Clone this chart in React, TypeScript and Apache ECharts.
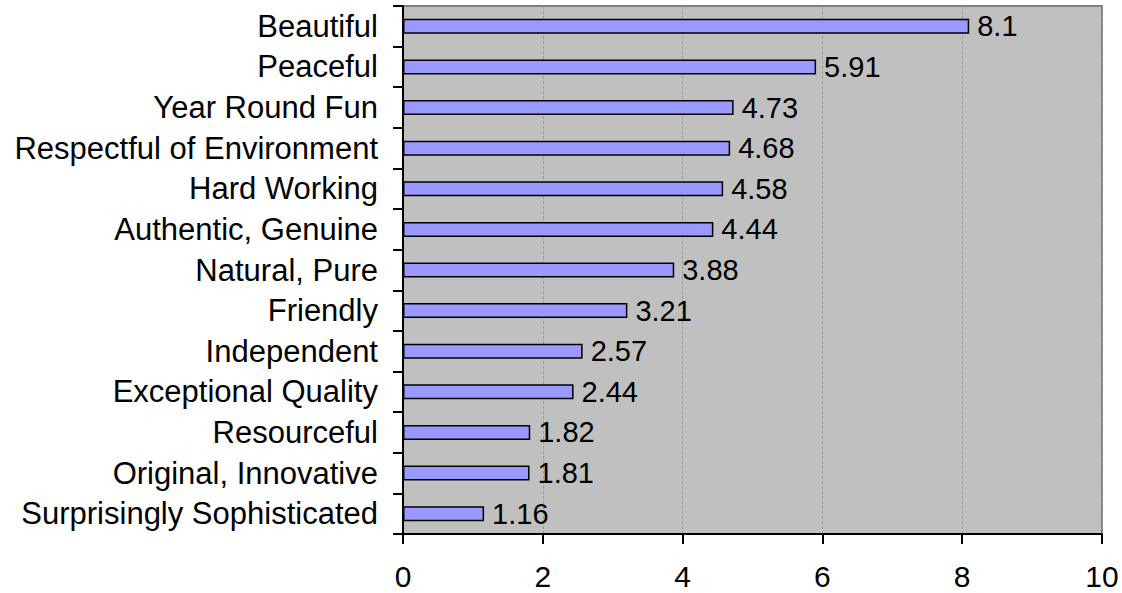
import React, { useEffect, useRef } from "react";
import * as echarts from "echarts";

const categories = [
  "Beautiful",
  "Peaceful",
  "Year Round Fun",
  "Respectful of Environment",
  "Hard Working",
  "Authentic, Genuine",
  "Natural, Pure",
  "Friendly",
  "Independent",
  "Exceptional Quality",
  "Resourceful",
  "Original, Innovative",
  "Surprisingly Sophisticated",
];
const values = [8.1, 5.91, 4.73, 4.68, 4.58, 4.44, 3.88, 3.21, 2.57, 2.44, 1.82, 1.81, 1.16];
const xTicks = [0, 2, 4, 6, 8, 10];

export default function App() {
  const ref = useRef<HTMLDivElement>(null);
  useEffect(() => {
    document.body.style.margin = "0";
    const chart = echarts.init(ref.current!, null, { renderer: "svg" });
    const font = "'Liberation Sans', Arial, sans-serif";
    chart.setOption({
      animation: false,
      backgroundColor: "#ffffff",
      grid: {
        left: 403,
        right: 20,
        top: 6,
        bottom: 59,
        show: true,
        backgroundColor: "#C0C0C0",
        borderColor: "#808080",
        borderWidth: 2,
      },
      xAxis: {
        type: "value",
        min: xTicks[0],
        max: xTicks[xTicks.length - 1],
        interval: 2,
        axisLine: { show: true, lineStyle: { color: "#000", width: 2 } },
        axisTick: { show: true, length: 10, lineStyle: { color: "#000", width: 2 } },
        axisLabel: { fontSize: 30, fontFamily: font, color: "#000", margin: 27 },
        splitLine: { show: true, lineStyle: { color: "#999999", width: 1, type: [3, 2] } },
      },
      yAxis: {
        type: "category",
        data: categories,
        inverse: true,
        axisLine: { show: true, lineStyle: { color: "#000", width: 2 } },
        axisTick: { show: true, length: 10, alignWithLabel: false, lineStyle: { color: "#000", width: 2 } },
        axisLabel: { fontSize: 31, fontFamily: font, color: "#000", margin: 25 },
        splitLine: { show: false },
      },
      series: [
        {
          type: "bar",
          data: values,
          barWidth: 15,
          itemStyle: { color: "#9999FF", borderColor: "#000", borderWidth: 1.5 },
          label: {
            show: true,
            position: "right",
            distance: 8,
            fontSize: 29,
            fontFamily: font,
            color: "#000",
            formatter: (p: any) => String(p.value),
          },
        },
      ],
    });
    return () => chart.dispose();
  }, []);
  return <div ref={ref} style={{ width: 1122, height: 593 }} />;
}
